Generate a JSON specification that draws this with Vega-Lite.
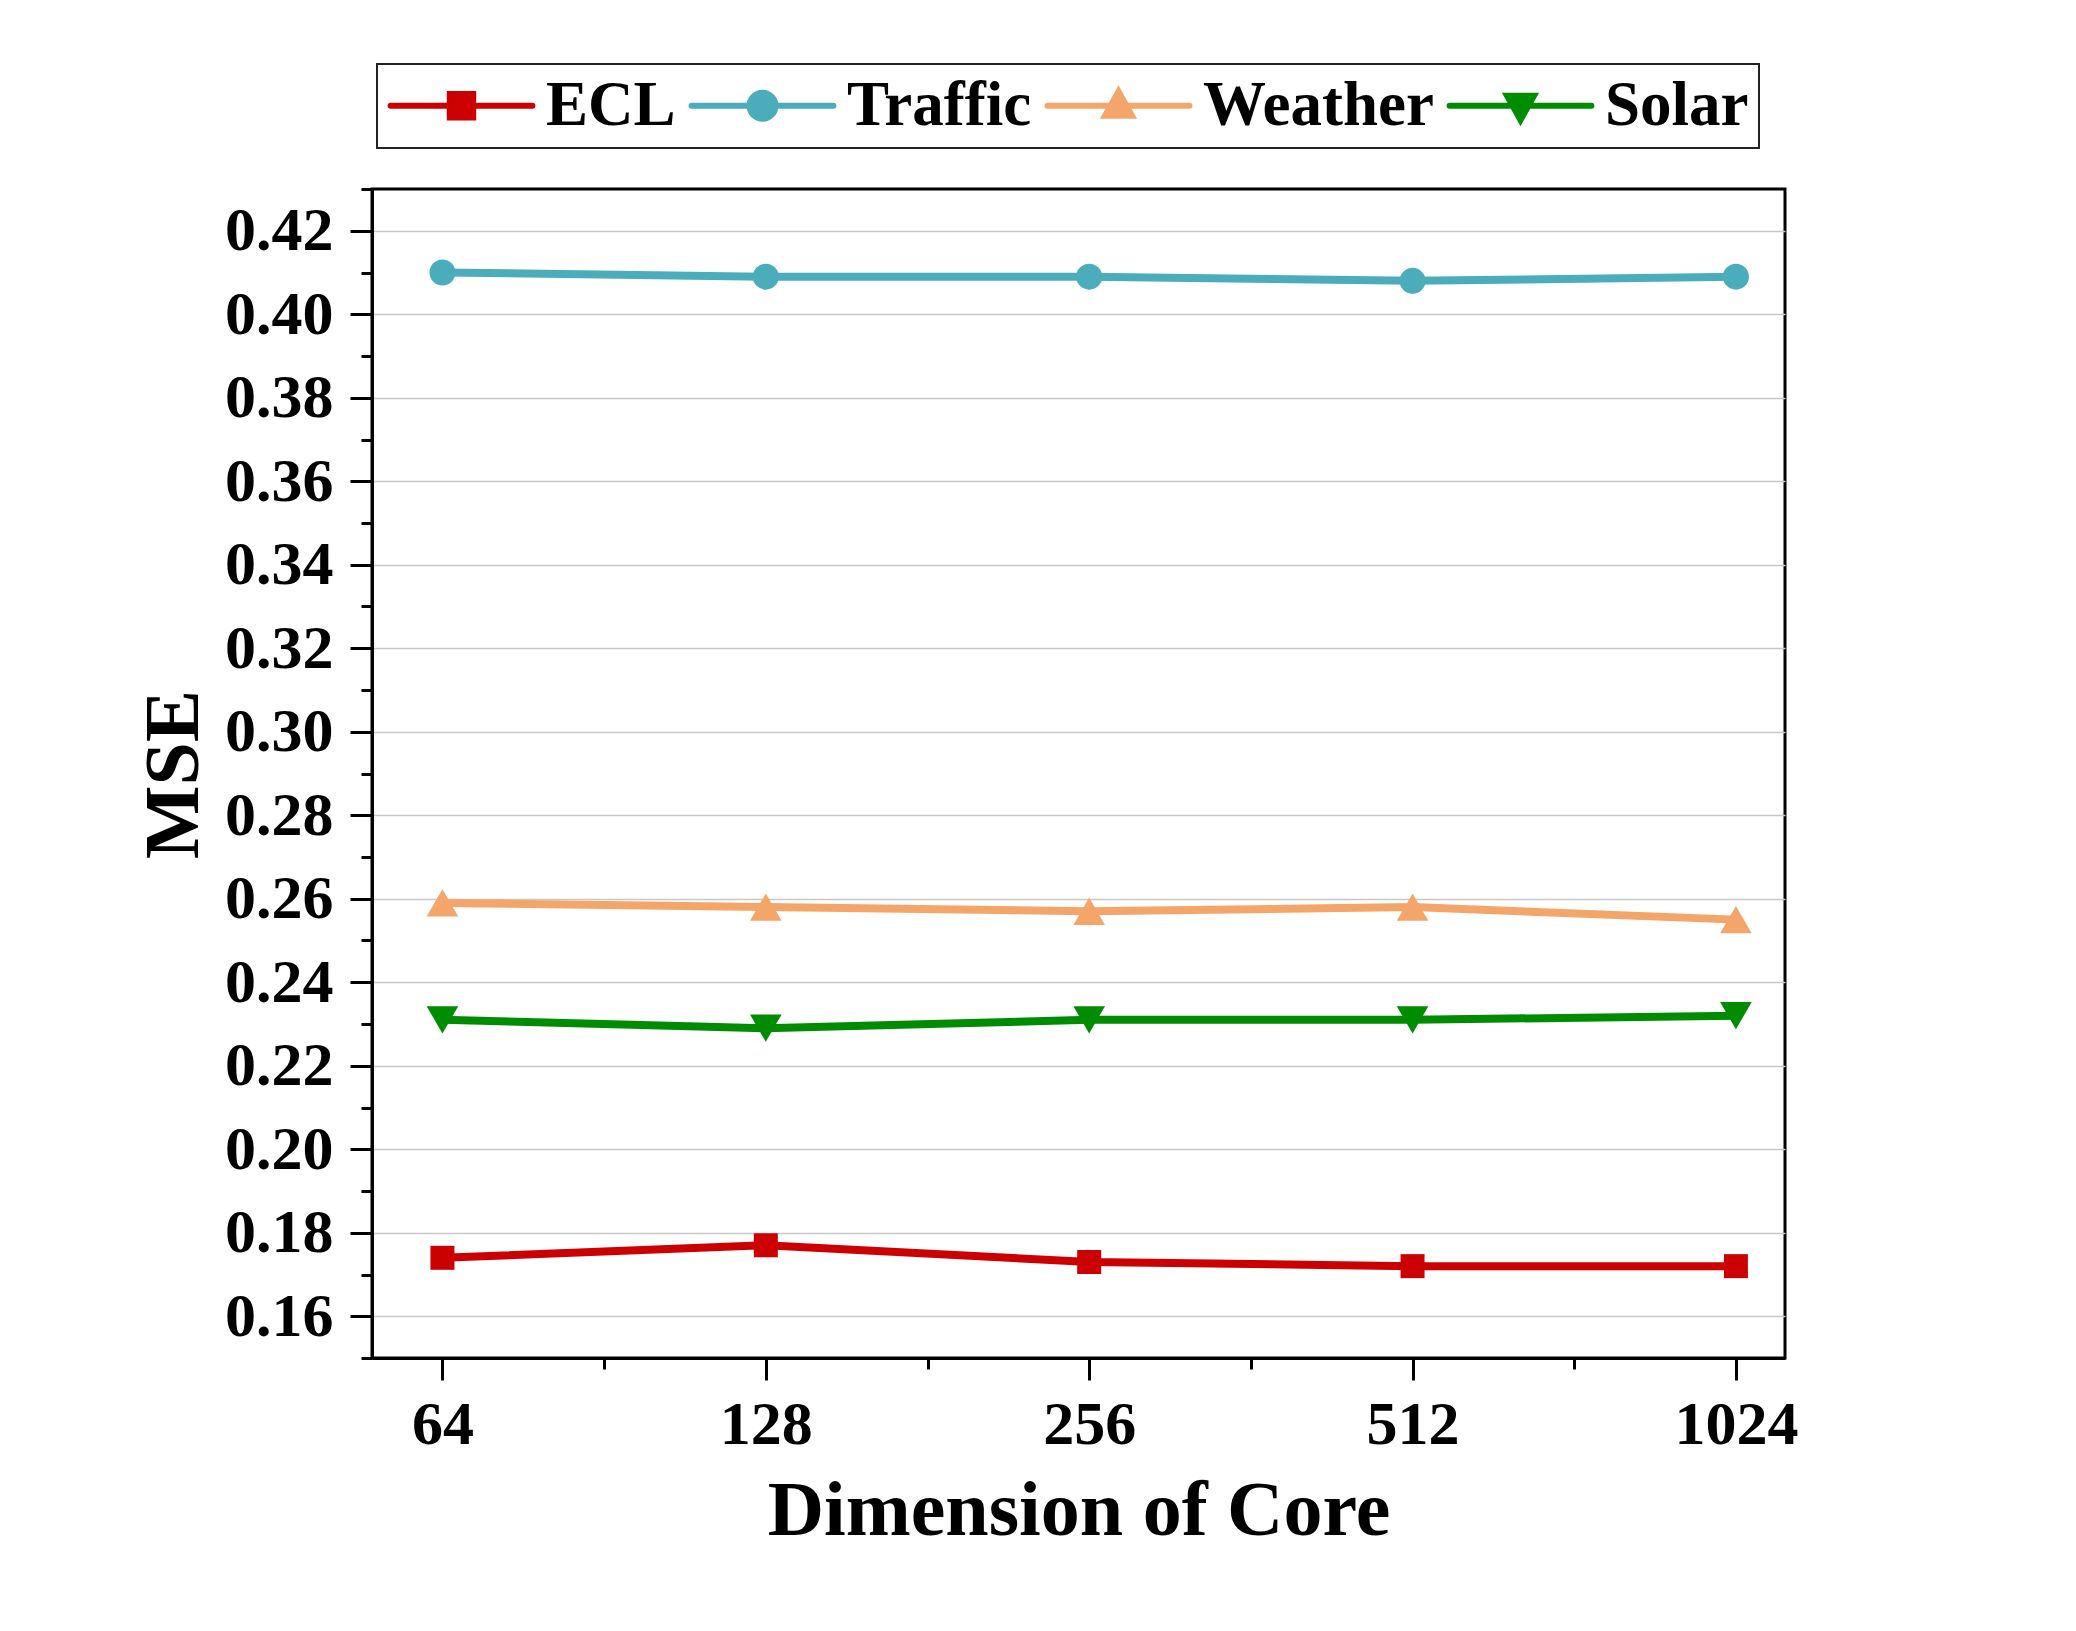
{
  "$schema": "https://vega.github.io/schema/vega-lite/v6.json",
  "width": 1413,
  "height": 1169,
  "autosize": {"type": "none"},
  "padding": {"left": 372, "top": 189, "right": 291, "bottom": 273},
  "background": "white",
  "config": {
    "view": {"stroke": "black", "strokeWidth": 3},
    "font": "Liberation Serif",
    "legend": {"strokeWidth": 2}
  },
  "data": {
    "values": [
      {"dim": 64, "series": "ECL", "mse": 0.174},
      {"dim": 128, "series": "ECL", "mse": 0.177},
      {"dim": 256, "series": "ECL", "mse": 0.173},
      {"dim": 512, "series": "ECL", "mse": 0.172},
      {"dim": 1024, "series": "ECL", "mse": 0.172},
      {"dim": 64, "series": "Traffic", "mse": 0.410},
      {"dim": 128, "series": "Traffic", "mse": 0.409},
      {"dim": 256, "series": "Traffic", "mse": 0.409},
      {"dim": 512, "series": "Traffic", "mse": 0.408},
      {"dim": 1024, "series": "Traffic", "mse": 0.409},
      {"dim": 64, "series": "Weather", "mse": 0.259},
      {"dim": 128, "series": "Weather", "mse": 0.258},
      {"dim": 256, "series": "Weather", "mse": 0.257},
      {"dim": 512, "series": "Weather", "mse": 0.258},
      {"dim": 1024, "series": "Weather", "mse": 0.255},
      {"dim": 64, "series": "Solar", "mse": 0.231},
      {"dim": 128, "series": "Solar", "mse": 0.229},
      {"dim": 256, "series": "Solar", "mse": 0.231},
      {"dim": 512, "series": "Solar", "mse": 0.231},
      {"dim": 1024, "series": "Solar", "mse": 0.232}
    ]
  },
  "encoding": {
    "x": {
      "field": "dim",
      "type": "quantitative",
      "scale": {"type": "log", "base": 2, "domain": [55.03, 1137.6], "nice": false, "zero": false},
      "axis": {
        "title": "Dimension of Core",
        "values": [64, 90.51, 128, 181.02, 256, 362.04, 512, 724.08, 1024],
        "labelExpr": "abs(log(datum.value)/log(2) - round(log(datum.value)/log(2))) < 0.01 ? format(datum.value, 'd') : ''",
        "labelFont": "Liberation Serif",
        "labelFontSize": 62,
        "labelFontWeight": "bold",
        "labelColor": "black",
        "labelPadding": 14,
        "labelFlush": false,
        "labelOverlap": false,
        "tickColor": "black",
        "tickWidth": 3,
        "tickSize": {"condition": {"test": "abs(log(datum.value)/log(2) - round(log(datum.value)/log(2))) < 0.01", "value": 22}, "value": 11},
        "domainColor": "black",
        "domainWidth": 3,
        "grid": false,
        "titleFont": "Liberation Serif",
        "titleFontSize": 78,
        "titleFontWeight": "bold",
        "titleColor": "black",
        "titleBaseline": "alphabetic",
        "titleX": 706.5,
        "titleY": 176
      }
    },
    "y": {
      "field": "mse",
      "type": "quantitative",
      "scale": {"domain": [0.15, 0.43], "nice": false, "zero": false},
      "axis": {
        "title": "MSE",
        "values": [0.15, 0.16, 0.17, 0.18, 0.19, 0.20, 0.21, 0.22, 0.23, 0.24, 0.25, 0.26, 0.27, 0.28, 0.29, 0.30, 0.31, 0.32, 0.33, 0.34, 0.35, 0.36, 0.37, 0.38, 0.39, 0.40, 0.41, 0.42, 0.43],
        "labelExpr": "round(datum.value*100) % 2 == 0 && datum.value < 0.425 ? format(datum.value, '.2f') : ''",
        "labelFont": "Liberation Serif",
        "labelFontSize": 62,
        "labelFontWeight": "bold",
        "labelColor": "black",
        "labelPadding": 17,
        "labelFlush": false,
        "labelOverlap": false,
        "tickColor": "black",
        "tickWidth": 3,
        "tickSize": {"condition": {"test": "round(datum.value*100) % 2 == 0", "value": 22}, "value": 11},
        "domainColor": "black",
        "domainWidth": 3,
        "grid": true,
        "gridColor": "#c8c8c8",
        "gridWidth": 1.5,
        "gridOpacity": {"condition": {"test": "round(datum.value*100) % 2 == 0 && datum.value < 0.425", "value": 1}, "value": 0},
        "titleFont": "Liberation Serif",
        "titleFontSize": 78,
        "titleFontWeight": "bold",
        "titleColor": "black",
        "titleAngle": -90,
        "titleBaseline": "alphabetic",
        "titleX": -175,
        "titleY": 585
      }
    },
    "color": {
      "field": "series",
      "type": "nominal",
      "scale": {"domain": ["ECL", "Traffic", "Weather", "Solar"], "range": ["#CC0000", "#4BACBC", "#F4A66A", "#008C00"]},
      "legend": {
        "title": null,
        "orient": "none",
        "direction": "horizontal",
        "columns": 4,
        "legendX": 5,
        "legendY": -125,
        "strokeColor": "#222222",
        "padding": 10,
        "labelFont": "Liberation Serif",
        "labelFontSize": 63,
        "labelFontWeight": "bold",
        "labelColor": "black",
        "labelLimit": 500,
        "labelOffset": 53,
        "symbolOffset": 43,
        "columnPadding": 3,
        "symbolSize": 1296,
        "symbolStrokeWidth": 6,
        "symbolType": "M-3.94,0H3.94",
        "encode": {
          "symbols": {
            "update": {
              "shape": {"signal": "datum.value === 'ECL' ? 'M-3.94,0H3.94M-0.65,-0.65H0.65V0.65H-0.65Z' : datum.value === 'Traffic' ? 'M-3.94,0H3.94M-0.72,0A0.72,0.72 0 1,1 0.72,0A0.72,0.72 0 1,1 -0.72,0Z' : datum.value === 'Weather' ? 'M-3.94,0H3.94M0,-0.8L0.75,0.55H-0.75Z' : 'M-3.94,0H3.94M0,0.8L0.75,-0.55H-0.75Z'"},
              "fill": {"signal": "scale('color', datum.value)"},
              "stroke": {"signal": "scale('color', datum.value)"},
              "strokeWidth": {"value": 6},
              "strokeCap": {"value": "round"},
              "size": {"value": 1296},
              "opacity": {"value": 1},
              "fillOpacity": {"value": 1}
            }
          }
        }
      }
    }
  },
  "layer": [
    {
      "mark": {"type": "line", "strokeWidth": 8},
      "encoding": {}
    },
    {
      "transform": [{"filter": {"field": "series", "equal": "ECL"}}],
      "mark": {"type": "point", "filled": true, "opacity": 1, "shape": "square", "size": 576}
    },
    {
      "transform": [{"filter": {"field": "series", "equal": "Traffic"}}],
      "mark": {"type": "point", "filled": true, "opacity": 1, "shape": "circle", "size": 676}
    },
    {
      "transform": [{"filter": {"field": "series", "equal": "Weather"}}],
      "mark": {"type": "point", "filled": true, "opacity": 1, "shape": "triangle-up", "size": 1000}
    },
    {
      "transform": [{"filter": {"field": "series", "equal": "Solar"}}],
      "mark": {"type": "point", "filled": true, "opacity": 1, "shape": "triangle-down", "size": 1000}
    }
  ]
}
